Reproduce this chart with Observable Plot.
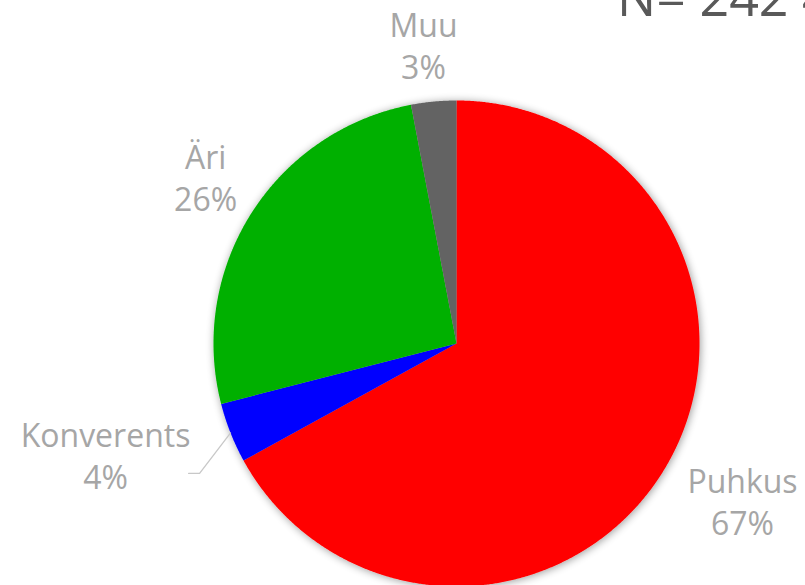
<!DOCTYPE html>
<html>
<head>
<meta charset="utf-8">
<script src="https://cdn.jsdelivr.net/npm/d3@7"></script>
<script src="https://cdn.jsdelivr.net/npm/@observablehq/plot@0.6"></script>
<style>
  html, body { margin: 0; padding: 0; background: #fff; overflow: hidden; }
  #chart { position: relative; width: 805px; height: 585px; }
  #title { position: absolute; left: 617px; top: -40px; font-family: "Open Sans", Lato, sans-serif; font-size: 52px; color: #595959; white-space: nowrap; }
</style>
</head>
<body>
<div id="chart"><div id="title">N= 242 4</div></div>
<script>
const categories = ["Puhkus", "Konverents", "Äri", "Muu"];
const values = [67, 4, 26, 3];
const colors = ["#ff0000", "#0000ff", "#00b000", "#636363"];

const arcs = d3.pie().sort(null).value(d => d.value)(
  categories.map((c, i) => ({category: c, value: values[i], color: colors[i]}))
);

// polygon outline for each slice in unit-circle coordinates (angle clockwise from top)
const slicePoints = [];
for (const a of arcs) {
  const n = Math.max(2, Math.ceil((a.endAngle - a.startAngle) / 0.005));
  slicePoints.push({category: a.data.category, x: 0, y: 0});
  for (let k = 0; k <= n; k++) {
    const t = a.startAngle + (a.endAngle - a.startAngle) * k / n;
    slicePoints.push({category: a.data.category, x: Math.sin(t), y: Math.cos(t)});
  }
  slicePoints.push({category: a.data.category, x: 0, y: 0});
}

// label placement (best-fit style): distance along the slice's middle angle, plus a nudge
const labelDist = {"Puhkus": 1.35, "Konverents": 1.52, "Äri": 1.23, "Muu": 1.22};
const labelNudge = {"Puhkus": [0.015, 0.041], "Konverents": [-0.031, 0.103], "Äri": [0.006, 0.028], "Muu": [-0.021, 0.014]};
const labels = arcs.map(a => {
  const m = (a.startAngle + a.endAngle) / 2;
  const r = labelDist[a.data.category];
  const [nx, ny] = labelNudge[a.data.category];
  return {
    text: `${a.data.category}\n${a.data.value}%`,
    category: a.data.category,
    mid: m,
    x: r * Math.sin(m) + nx,
    y: r * Math.cos(m) + ny
  };
});

// leader line for the small Konverents label
const kon = arcs.find(a => a.data.category === "Konverents");
const km = (kon.startAngle + kon.endAngle) / 2;
const konLabel = labels.find(d => d.category === "Konverents");
const leader = [
  {x: Math.sin(km), y: Math.cos(km)},
  {x: konLabel.x + 0.387, y: konLabel.y - 0.078},
  {x: konLabel.x + 0.342, y: konLabel.y - 0.078}
];

const colorOf = Object.fromEntries(categories.map((c, i) => [c, colors[i]]));

const svg = Plot.plot({
  width: 805,
  height: 585,
  margin: 0,
  style: {background: "transparent", overflow: "visible"},
  x: {domain: [-1, 1], range: [213, 699], axis: null},
  y: {domain: [-1, 1], range: [586, 100], axis: null},
  marks: [
    Plot.line(slicePoints, {x: "x", y: "y", z: "category", fill: d => colorOf[d.category], stroke: "none", curve: "linear"}),
    Plot.line(leader, {x: "x", y: "y", stroke: "#c8c8c8", strokeWidth: 1.3}),
    Plot.text(labels, {
      x: "x", y: "y", text: "text",
      fill: "#a6a6a6", fontSize: 32, lineHeight: 1.31,
      fontFamily: "'Open Sans', Lato, sans-serif",
      textAnchor: "middle", lineAnchor: "middle"
    })
  ]
});

// soft shadow around the pie
const defs = document.createElementNS("http://www.w3.org/2000/svg", "defs");
defs.innerHTML = `<filter id="pieShadow" x="-20%" y="-20%" width="140%" height="140%">
  <feGaussianBlur in="SourceAlpha" stdDeviation="4"/>
  <feOffset dx="1" dy="1" result="b"/>
  <feComponentTransfer><feFuncA type="linear" slope="0.4"/></feComponentTransfer>
  <feMerge><feMergeNode/><feMergeNode in="SourceGraphic"/></feMerge>
</filter>`;
svg.insertBefore(defs, svg.firstChild);
const pieGroup = svg.querySelector('g[aria-label="line"]');
if (pieGroup) pieGroup.setAttribute("filter", "url(#pieShadow)");

const chart = document.getElementById("chart");
svg.style.position = "absolute";
svg.style.left = "0";
svg.style.top = "0";
chart.insertBefore(svg, chart.firstChild);
</script>
</body>
</html>
